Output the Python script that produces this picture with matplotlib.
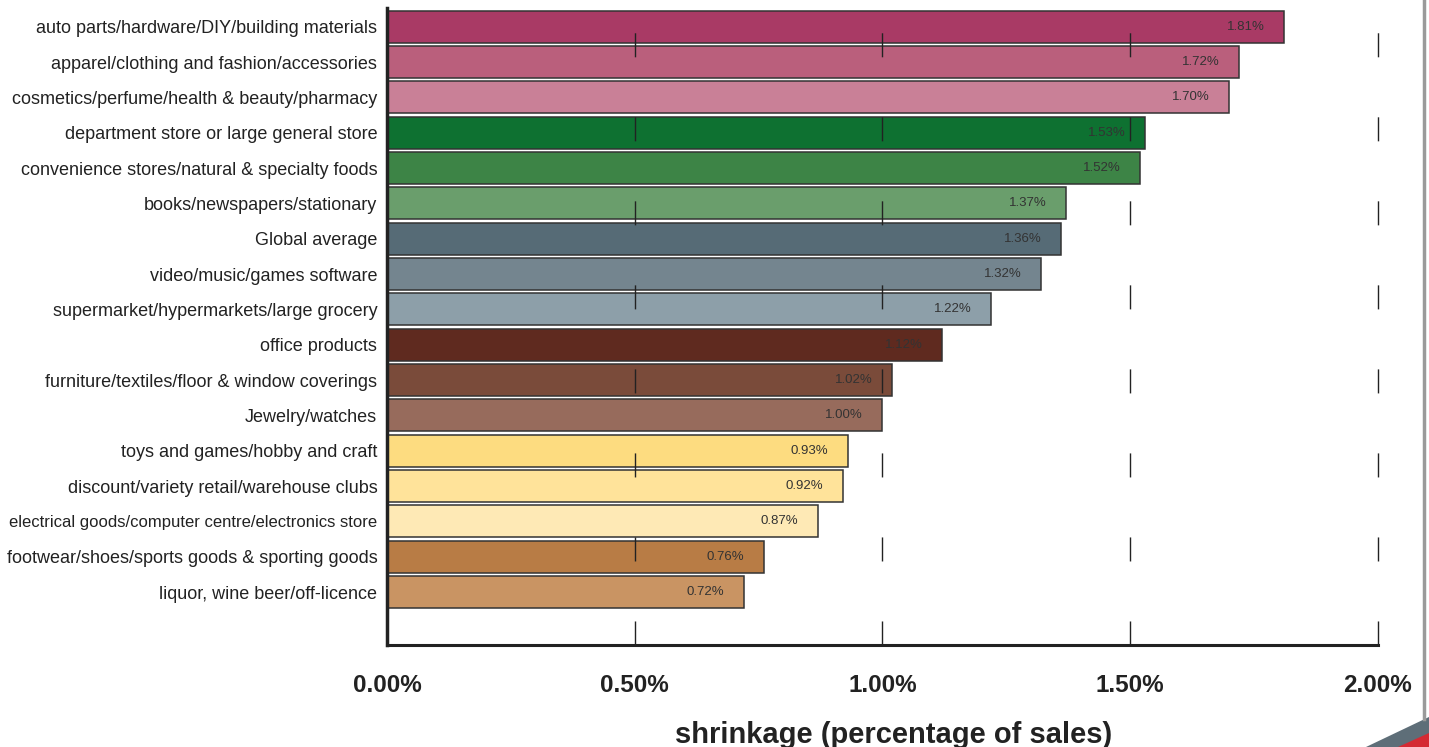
import matplotlib.pyplot as plt
from matplotlib.patches import Polygon

plt.rcParams['font.family'] = ['Liberation Sans', 'DejaVu Sans']

# data, top to bottom
categories = [
    'auto parts/hardware/DIY/building materials',
    'apparel/clothing and fashion/accessories',
    'cosmetics/perfume/health & beauty/pharmacy',
    'department store or large general store',
    'convenience stores/natural & specialty foods',
    'books/newspapers/stationary',
    'Global average',
    'video/music/games software',
    'supermarket/hypermarkets/large grocery',
    'office products',
    'furniture/textiles/floor & window coverings',
    'Jewelry/watches',
    'toys and games/hobby and craft',
    'discount/variety retail/warehouse clubs',
    'electrical goods/computer centre/electronics store',
    'footwear/shoes/sports goods & sporting goods',
    'liquor, wine beer/off-licence',
]
shrinkage = [1.81, 1.72, 1.70, 1.53, 1.52, 1.37, 1.36, 1.32, 1.22,
             1.12, 1.02, 1.00, 0.93, 0.92, 0.87, 0.76, 0.72]
colors = ['#A93A65', '#BA5F7C', '#C98097', '#0E7131', '#3D8446', '#6A9E6C',
          '#566B76', '#74858F', '#8D9FA9', '#5F2A1F', '#7A4B3A', '#976B5C',
          '#FDDC80', '#FFE39A', '#FEE9B5', '#B87C45', '#C99463']
xticks = [0.0, 0.5, 1.0, 1.5, 2.0]

fig = plt.figure(figsize=(14.29, 7.47), dpi=100)
ax = fig.add_axes([0.2708, 0.1365, 0.6935, 0.8528])

y = list(range(len(categories)))
ax.barh(y, shrinkage, height=0.9, color=colors, edgecolor='#333333', linewidth=1.1, zorder=2)

for yi, v in zip(y, shrinkage):
    ax.annotate(f'{v:.2f}%', (v, yi), xytext=(-14, 0), textcoords='offset points',
                ha='right', va='center', fontsize=9.5, color='#333333', zorder=4)

# dashed grid lines drawn over the bars
for xv in xticks[1:]:
    ax.axvline(xv, color='#222222', linewidth=1.0, dashes=(17.3, 43.2), zorder=3, clip_on=False)

ax.set_xlim(0, 2.0)
ax.set_ylim(17.5, -0.53)
ax.set_yticks(y)
ax.set_yticklabels(categories, fontsize=13, color='#222222')
for lbl in ax.get_yticklabels():
    if lbl.get_text().startswith('electrical'):
        lbl.set_fontsize(12)
ax.set_xticks(xticks)
ax.set_xticklabels([f'{t:.2f}%' for t in xticks], fontsize=17.5, fontweight='bold', color='#222222')
ax.tick_params(axis='both', length=0)
ax.tick_params(axis='y', pad=7)
ax.tick_params(axis='x', pad=21)
ax.set_xlabel('shrinkage (percentage of sales)', fontsize=21, fontweight='bold',
              color='#222222', va='center')
ax.xaxis.set_label_coords(0.511, -0.142)

for s in ['top', 'right']:
    ax.spines[s].set_visible(False)
ax.spines['left'].set_linewidth(2.5)
ax.spines['bottom'].set_linewidth(2.2)
ax.spines['left'].set_color('#222222')
ax.spines['bottom'].set_color('#222222')

# decoration on the right edge
fig.add_artist(plt.Line2D([1424 / 1429, 1424 / 1429], [28 / 747, 1.0], transform=fig.transFigure,
                          color='#9A9A9A', linewidth=2.5))
fig.add_artist(Polygon([[1366 / 1429, 0], [1.0, 30 / 747], [1.0, 0]], closed=True,
                       transform=fig.transFigure, facecolor='#5E6E78', edgecolor='none'))
fig.add_artist(Polygon([[1398 / 1429, 0], [1.0, 14 / 747], [1.0, 0]], closed=True,
                       transform=fig.transFigure, facecolor='#D42A33', edgecolor='none'))

fig.savefig('out.png', dpi=100)
